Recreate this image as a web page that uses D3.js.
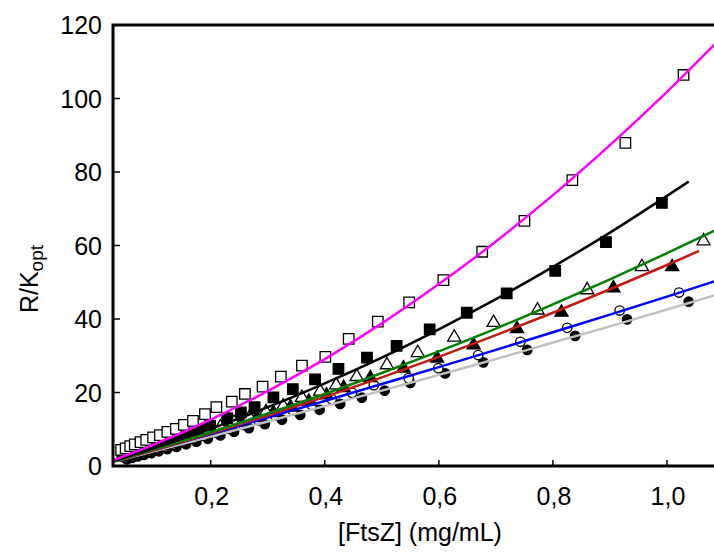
<!DOCTYPE html>
<html lang="pt-br">
<head>
  <meta charset="utf-8">
  <title>R/Kopt vs FtsZ</title>
  <script src="https://d3js.org/d3.v7.min.js"></script>
  <style>
    body { margin: 0; background: #fff; }
    text { font-family: Arial, "Liberation Sans", sans-serif; fill: #000; }
  </style>
</head>
<body>
<div id="chart"></div>
<script>
"use strict"

// ticks
var xTicks = [0.2, 0.4, 0.6, 0.8, 1.0];
var yTicks = [0, 20, 40, 60, 80, 100, 120];

// open squares (magenta fit)
var sqOpenX = [0.043, 0.051, 0.059, 0.067, 0.077, 0.087, 0.099, 0.111, 0.124, 0.139, 0.153, 0.169, 0.190, 0.210, 0.237, 0.260, 0.291, 0.323, 0.360, 0.401, 0.442, 0.493, 0.548, 0.608, 0.676, 0.750, 0.834, 0.927, 1.029];
var sqOpenY = [4.4, 4.8, 5.4, 5.9, 6.5, 7.1, 7.8, 8.4, 9.3, 10.1, 11.2, 12.3, 14.1, 16.0, 17.5, 19.6, 21.6, 24.3, 27.3, 29.7, 34.6, 39.3, 44.5, 50.6, 58.3, 66.7, 77.8, 87.9, 106.4];

// filled squares (black fit)
var sqFillX = [0.045, 0.053, 0.061, 0.070, 0.080, 0.091, 0.103, 0.116, 0.130, 0.145, 0.161, 0.179, 0.199, 0.229, 0.253, 0.277, 0.310, 0.344, 0.383, 0.424, 0.474, 0.526, 0.584, 0.649, 0.719, 0.804, 0.893, 0.991];
var sqFillY = [2.9, 3.3, 3.7, 4.1, 4.6, 5.1, 5.7, 6.4, 7.1, 7.9, 8.8, 9.8, 11.0, 13.0, 14.6, 16.0, 18.7, 20.9, 23.6, 26.4, 29.5, 32.7, 37.2, 41.7, 47.0, 53.1, 60.9, 71.6];

// open triangles (green fit)
var triOpenX = [0.047, 0.056, 0.065, 0.075, 0.086, 0.098, 0.111, 0.125, 0.140, 0.157, 0.175, 0.195, 0.217, 0.241, 0.268, 0.297, 0.327, 0.360, 0.392, 0.420, 0.456, 0.509, 0.563, 0.627, 0.696, 0.773, 0.860, 0.956, 1.064];
var triOpenY = [2.6, 3.0, 3.4, 3.8, 4.3, 4.9, 5.5, 6.1, 6.8, 7.6, 8.5, 9.5, 10.6, 11.8, 13.2, 14.7, 16.3, 18.6, 20.3, 22.0, 24.3, 27.5, 30.8, 35.0, 39.0, 42.4, 47.9, 54.2, 61.2];

// filled triangles (red fit)
var triFillX = [0.049, 0.058, 0.068, 0.079, 0.090, 0.103, 0.117, 0.132, 0.148, 0.166, 0.185, 0.206, 0.229, 0.254, 0.281, 0.310, 0.340, 0.372, 0.403, 0.433, 0.480, 0.538, 0.597, 0.661, 0.737, 0.815, 0.906, 1.009];
var triFillY = [2.4, 2.8, 3.2, 3.7, 4.2, 4.8, 5.4, 6.1, 6.8, 7.6, 8.5, 9.5, 10.6, 11.8, 13.1, 14.5, 16.0, 17.6, 19.3, 21.3, 24.0, 26.6, 29.3, 32.9, 37.3, 41.8, 48.4, 54.2];

// open circles (blue fit)
var cirOpenX = [0.051, 0.060, 0.070, 0.081, 0.093, 0.106, 0.120, 0.135, 0.151, 0.169, 0.188, 0.209, 0.232, 0.257, 0.284, 0.313, 0.344, 0.377, 0.412, 0.448, 0.486, 0.547, 0.599, 0.669, 0.743, 0.825, 0.917, 1.021];
var cirOpenY = [2.2, 2.6, 3.0, 3.5, 4.0, 4.6, 5.2, 5.9, 6.6, 7.4, 8.2, 9.1, 10.1, 11.2, 12.4, 13.7, 15.1, 16.6, 18.2, 19.9, 22.0, 23.9, 26.6, 30.2, 33.8, 37.6, 42.3, 47.2];

// filled circles (grey fit)
var cirFillX = [0.053, 0.062, 0.072, 0.083, 0.096, 0.109, 0.124, 0.140, 0.157, 0.175, 0.195, 0.217, 0.241, 0.267, 0.295, 0.325, 0.357, 0.391, 0.427, 0.465, 0.505, 0.550, 0.611, 0.678, 0.755, 0.839, 0.930, 1.038];
var cirFillY = [1.8, 2.2, 2.6, 3.0, 3.5, 4.0, 4.6, 5.2, 5.9, 6.6, 7.4, 8.3, 9.3, 10.3, 11.4, 12.6, 13.9, 15.3, 16.9, 18.6, 20.5, 22.6, 25.2, 28.2, 31.6, 35.4, 39.9, 44.7];

// fitted curves
var fitX       = [0.03, 0.1, 0.2, 0.3, 0.4, 0.5, 0.6, 0.7, 0.8, 0.9, 1.0, 1.1];
var fitMagenta = [1.6, 5.8, 12.6, 20.4, 29.1, 38.8, 49.5, 61.1, 73.7, 87.3, 101.8, 117.3];
var fitBlack   = [1.4, 4.8, 10.1, 16.0, 22.5, 29.5, 37.2, 45.4, 54.2, 63.5, 73.5, 77.4];
var fitGreen   = [1.3, 4.5, 9.2, 14.3, 19.6, 25.3, 31.2, 37.4, 44.0, 50.8, 57.9, 65.3];
var fitRed     = [1.3, 4.3, 8.9, 13.7, 18.8, 24.1, 29.7, 35.6, 41.7, 48.1, 54.7, 58.5];
var fitBlue    = [1.3, 4.3, 8.7, 13.2, 17.7, 22.3, 26.9, 31.6, 36.4, 41.2, 46.1, 51.1];
var fitGrey    = [1.2, 4.0, 8.0, 12.1, 16.3, 20.5, 24.8, 29.1, 33.6, 38.0, 42.6, 47.2];
var fitEndX = { black: 1.038, red: 1.056 };

var W = 714, H = 552;
var plotLeft = 113, plotTop = 25, plotBottom = 466;

var svg = d3.select('#chart').append('svg')
  .attr('width', W).attr('height', H);

var x = d3.scaleLinear().domain([0, 1]).range([96.6, 667]);
var y = d3.scaleLinear().domain([0, 120]).range([plotBottom, plotTop]);

svg.append('clipPath').attr('id', 'plot')
  .append('rect').attr('x', plotLeft).attr('y', plotTop)
  .attr('width', W - plotLeft).attr('height', plotBottom - plotTop);

var plot = svg.append('g').attr('clip-path', 'url(#plot)');

function pts(xs, ys) { return xs.map(function(v, i) { return [v, ys[i]]; }); }

// markers
function drawMarks(data, type, size, filled) {
  plot.append('g').selectAll('path')
    .data(data).enter().append('path')
      .attr('transform', function(d) { return 'translate(' + x(d[0]) + ',' + y(d[1]) + ')'; })
      .attr('d', d3.symbol().type(type).size(size))
      .attr('fill', filled ? '#000' : '#fff')
      .attr('stroke', '#000')
      .attr('stroke-width', 1.3);
}

drawMarks(pts(cirFillX, cirFillY), d3.symbolCircle, 70, true);
drawMarks(pts(cirOpenX, cirOpenY), d3.symbolCircle, 70, false);
drawMarks(pts(triFillX, triFillY), d3.symbolTriangle, 75, true);
drawMarks(pts(triOpenX, triOpenY), d3.symbolTriangle, 75, false);
drawMarks(pts(sqFillX, sqFillY), d3.symbolSquare, 110, true);
drawMarks(pts(sqOpenX, sqOpenY), d3.symbolSquare, 110, false);

// fit lines
var line = d3.line().x(function(d) { return x(d[0]); }).y(function(d) { return y(d[1]); })
  .curve(d3.curveMonotoneX);

function fitPts(vals, endX) {
  var p = pts(fitX, vals);
  if (endX) p[p.length - 1][0] = endX;
  return p;
}

var fits = [
  { v: fitGrey, c: '#c0c0c0' },
  { v: fitBlue, c: '#0000ff' },
  { v: fitRed, c: '#c41a12', end: fitEndX.red },
  { v: fitGreen, c: '#008000' },
  { v: fitBlack, c: '#000000', end: fitEndX.black },
  { v: fitMagenta, c: '#ff00ff' }
];

fits.forEach(function(f) {
  plot.append('path')
    .attr('d', line(fitPts(f.v, f.end)))
    .attr('fill', 'none')
    .attr('stroke', f.c)
    .attr('stroke-width', 2.5);
});

// frame
svg.append('rect')
  .attr('x', plotLeft).attr('y', plotTop)
  .attr('width', W + 40 - plotLeft).attr('height', plotBottom - plotTop)
  .attr('fill', 'none').attr('stroke', '#000').attr('stroke-width', 3);

// y ticks (inside)
svg.append('g').selectAll('line')
  .data(yTicks.slice(1, -1)).enter().append('line')
    .attr('x1', plotLeft).attr('x2', plotLeft + 7)
    .attr('y1', function(d) { return y(d); }).attr('y2', function(d) { return y(d); })
    .attr('stroke', '#000').attr('stroke-width', 1.5);

svg.append('g').selectAll('text')
  .data(yTicks).enter().append('text')
    .attr('x', 102).attr('y', function(d) { return y(d); })
    .attr('dy', '0.36em')
    .attr('text-anchor', 'end')
    .style('font-size', '25px')
    .text(function(d) { return d; });

// x ticks (inside)
svg.append('g').selectAll('line')
  .data(xTicks).enter().append('line')
    .attr('x1', function(d) { return x(d); }).attr('x2', function(d) { return x(d); })
    .attr('y1', plotBottom).attr('y2', plotBottom - 6)
    .attr('stroke', '#000').attr('stroke-width', 1.5);

svg.append('g').selectAll('text')
  .data(xTicks).enter().append('text')
    .attr('x', function(d) { return x(d) + 1; }).attr('y', 505)
    .attr('text-anchor', 'middle')
    .style('font-size', '25px')
    .text(function(d) { return d3.format('.1f')(d).replace('.', ','); });

// axis titles
svg.append('text')
  .attr('x', 420).attr('y', 541)
  .attr('text-anchor', 'middle')
  .style('font-size', '25px')
  .text('[FtsZ] (mg/mL)');

var yt = svg.append('text')
  .attr('transform', 'translate(38,279) rotate(-90)')
  .attr('text-anchor', 'middle')
  .style('font-size', '25px');
yt.append('tspan').text('R/K');
yt.append('tspan').attr('dy', 5).style('font-size', '19px').text('opt');
</script>
</body>
</html>
